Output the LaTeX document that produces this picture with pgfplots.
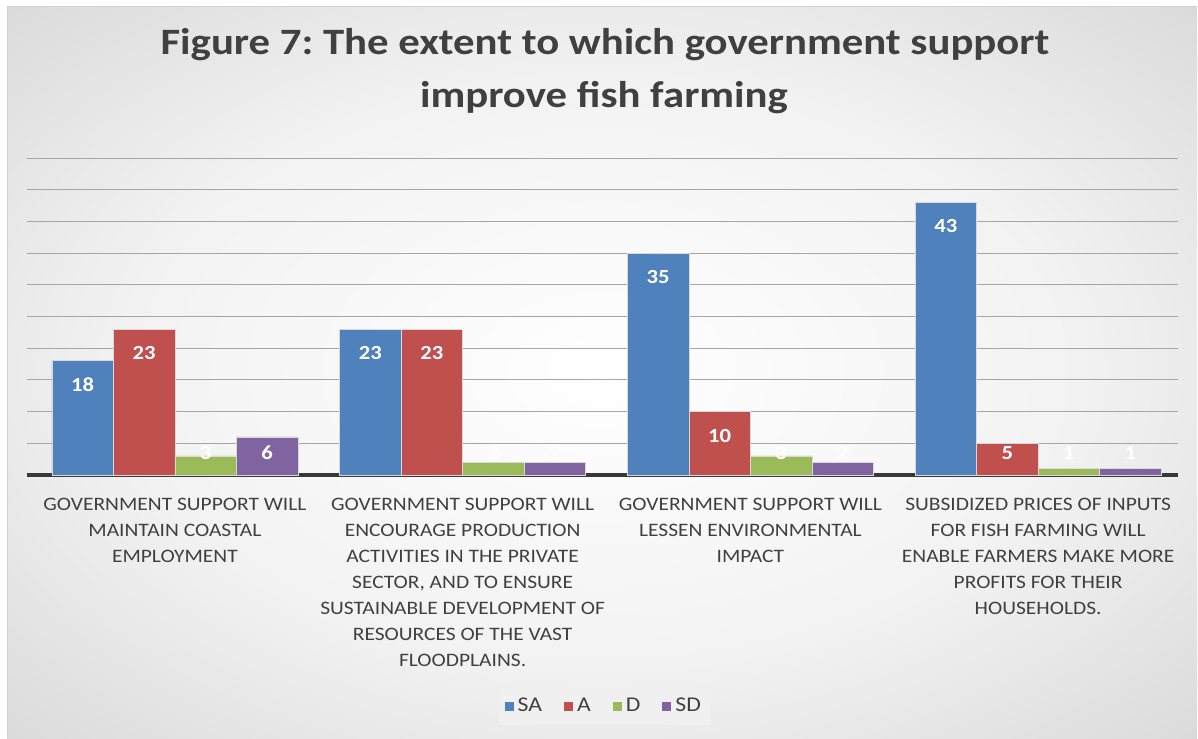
\documentclass[border=0pt]{standalone}
\usepackage{pgfplots}
\pgfplotsset{compat=1.18}
\usepackage{fontspec}
\setmainfont{Carlito}[FakeStretch=1.13]
\newfontfamily\titlefont{Carlito}[FakeStretch=1.15]
\definecolor{cSA}{HTML}{4F81BD}
\definecolor{cA}{HTML}{C0504D}
\definecolor{cD}{HTML}{9BBB59}
\definecolor{cSD}{HTML}{8064A2}
\definecolor{textc}{HTML}{404040}
\pgfdeclareradialshading{bgshade}{\pgfpoint{0bp}{0bp}}{color(0bp)=(white); color(20bp)=(white!95!black); color(50bp)=(white!77!black); color(72bp)=(white!70!black)}
\pgfplotsset{sqleg/.style={legend image code/.code={\fill[##1,draw=none] (0pt,-2.25pt) rectangle (4.5pt,2.25pt);}}}
\begin{document}
\frenchspacing
\begin{tikzpicture}
\fill[white] (0,0) rectangle (599pt,369pt);
\shade[shading=bgshade] (3.5pt,0) rectangle (598.5pt,365.5pt);
\draw[black!18, line width=0.5pt] (3.5pt,0) -- (3.5pt,365.5pt) -- (598.5pt,365.5pt);
\node[anchor=base, font=\titlefont\bfseries\fontsize{18.6}{22}\selectfont, text=textc, inner sep=0pt] at (302.5pt,341.5pt) {\frenchspacing Figure 7: The extent to which government support};
\node[anchor=base, font=\titlefont\bfseries\fontsize{18.6}{22}\selectfont, text=textc, inner sep=0pt] at (302pt,315pt) {improve fish farming};
\begin{axis}[
  at={(13.5pt,131.5pt)}, anchor=south west,
  scale only axis, width=575.5pt, height=158.5pt,
  ybar=0pt, bar width=30.75pt,
  xmin=-0.514, xmax=3.486, ymin=0, ymax=50,
  axis line style={draw=none},
  ytick={5,10,...,50}, yticklabels={},
  ymajorgrids, grid style={black!35, line width=0.5pt},
  major tick length=0pt,
  extra y ticks={0}, extra y tick labels={},
  extra y tick style={grid style={black!78, line width=1.6pt}},
  xtick={0,1,2,3},
  xticklabels={
    {GOVERNMENT SUPPORT WILL\\MAINTAIN COASTAL\\EMPLOYMENT},
    {GOVERNMENT SUPPORT WILL\\ENCOURAGE PRODUCTION\\ACTIVITIES IN THE PRIVATE\\SECTOR, AND TO ENSURE\\SUSTAINABLE DEVELOPMENT OF\\RESOURCES OF THE VAST\\FLOODPLAINS.},
    {GOVERNMENT SUPPORT WILL\\LESSEN ENVIRONMENTAL\\IMPACT},
    {SUBSIDIZED PRICES OF INPUTS\\FOR FISH FARMING WILL\\ENABLE FARMERS MAKE MORE\\PROFITS FOR THEIR\\HOUSEHOLDS.}},
  xticklabel style={align=center, font=\fontsize{9.5}{13}\selectfont, text=textc, yshift=-8pt},
  /pgf/number format/assume math mode=true,
  visualization depends on={y \as \rawy},
  nodes near coords,
  nodes near coords style={font=\bfseries\fontsize{10}{12}\selectfont, text=white, anchor=center, yshift={max(-12,11.1-3.17*\rawy)}},
  legend style={at={(0.502,-0.73)}, anchor=center, fill=black!6, draw=none, legend columns=4,
    font=\fontsize{10.5}{12}\selectfont, text=textc, inner sep=3pt,
    /tikz/every even column/.append style={column sep=9pt}},
]
\addplot[fill=cSA, draw=white!85!black, line width=0.4pt, sqleg] coordinates {(0,18) (1,23) (2,35) (3,43)};
\addplot[fill=cA, draw=white!85!black, line width=0.4pt, sqleg] coordinates {(0,23) (1,23) (2,10) (3,5)};
\addplot[fill=cD, draw=white!85!black, line width=0.4pt, sqleg] coordinates {(0,3) (1,2) (2,3) (3,1)};
\addplot[fill=cSD, draw=white!85!black, line width=0.4pt, sqleg] coordinates {(0,6) (1,2) (2,2) (3,1)};
\legend{SA,A,D,SD}
\end{axis}
\end{tikzpicture}
\end{document}
